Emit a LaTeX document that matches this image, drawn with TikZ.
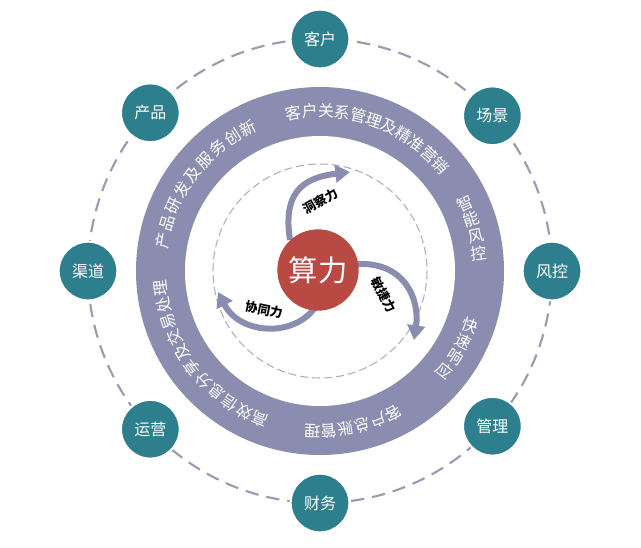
\documentclass[tikz,border=0pt]{standalone}
\usepackage{fontspec}
\setmainfont{Noto Sans CJK SC}
\usetikzlibrary{arrows.meta}
\definecolor{teal1}{HTML}{2E7F8E}
\definecolor{ring}{HTML}{8A8DB0}
\definecolor{redc}{HTML}{B94A43}
\definecolor{dash1}{HTML}{9A9AB4}
\tikzset{
  sat/.style={circle,fill=teal1,draw=white,line width=1.5pt,minimum size=44pt,inner sep=0pt,text=white,font=\fontsize{12}{12}\selectfont},
  rtxt/.style={text=white,font=\fontsize{12}{12}\selectfont,inner sep=0pt},
  swirl/.style={ring,line width=4.5pt,-{Triangle[width=13pt,length=11pt]}},
  ilab/.style={font=\fontsize{9.5}{9.5}\selectfont\bfseries,inner sep=0pt}
}
\newcommand{\arcchars}[4]{% start angle, step, mode(0 tangent,1 vertical), chars
  \foreach \c [count=\i] in {#4}{
    \pgfmathsetmacro{\ang}{#1-(\i-1)*#2}
    \pgfmathsetmacro{\rot}{#3==1 ? \ang : \ang-90}
    \node[rtxt,rotate=\rot] at ({320+160*cos(\ang)},{271-160*sin(\ang)}) {\c};
  }}
\begin{document}
\begin{tikzpicture}[x=0.75pt,y=-0.75pt]
\useasboundingbox (0,0) rectangle (641,547);
\coordinate (C) at (320,271);
\draw[dash1,line width=1.6pt,dash pattern=on 10pt off 6pt] (C) circle[radius=232];
\fill[ring] (C) circle[radius=184];
\fill[white] (C) circle[radius=135];
\draw[dash1!80,line width=0.8pt,dash pattern=on 6pt off 3pt] (C) circle[radius=107];
\foreach \a/\t/\n in {90/客户/s1,42/场景/s2,0/风控/s3,-42/管理/s4,-90/财务/s5,-137/运营/s6,180/渠道/s7,137/产品/s8}{
  \node[sat] (\n) at ({320+232*cos(\a)},{271-232*sin(\a)}) {\t};
}
\arcchars{99.5}{5.85}{0}{客,户,关,系,管,理,及,精,准,营,销}
\arcchars{169}{6.55}{0}{产,品,研,发,及,服,务,创,新}
\arcchars{248}{6.2}{0}{高,效,信,息,分,享,及,交,易,处,理}
\arcchars{25}{6.2}{1}{智,能,风,控}
\arcchars{-20}{6.2}{1}{快,速,响,应}
\arcchars{-62.7}{6}{0}{客,户,总,账,管,理}
\coordinate (a1) at (290,240); \coordinate (b1) at (350,172);
\coordinate (a2) at (358,264); \coordinate (b2) at (414,340);
\coordinate (a3) at (316,306); \coordinate (b3) at (218,292);
\draw[swirl] (a1) .. controls (283,195) and (300,178) .. (b1);
\draw[swirl] (a2) .. controls (405,262) and (420,300) .. (b2);
\draw[swirl] (a3) .. controls (295,338) and (240,335) .. (b3);
\node[circle,fill=redc,minimum size=61pt,inner sep=0pt,text=white,font=\fontsize{22}{22}\selectfont] (ctr) at (318,270) {算力};
\node[ilab,rotate=30] (l1) at (321,201) {洞察力};
\node[ilab,rotate=-62] (l2) at (384,295) {敏捷力};
\node[ilab,rotate=-12] (l3) at (264,310) {协同力};
\end{tikzpicture}
\end{document}
